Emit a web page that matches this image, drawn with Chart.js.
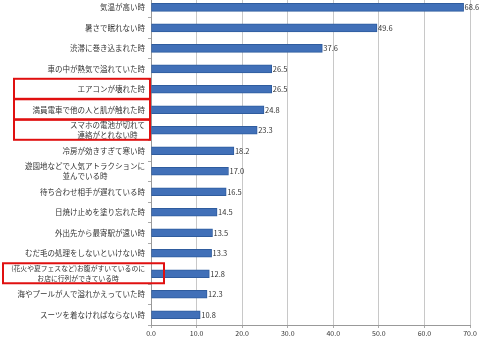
<!DOCTYPE html>
<html>
<head>
<meta charset="utf-8">
<script src="https://cdn.jsdelivr.net/npm/chart.js@4.4.1/dist/chart.umd.min.js"></script>
<style>
  body{ margin:0; background:#fff; }
  #wrap{ position:relative; width:480px; height:339px; overflow:hidden; }
  #chart{ position:absolute; left:0; top:-14px; }
</style>
</head>
<body>
<div id="wrap"><canvas id="chart" width="480" height="354"></canvas></div>
<script>
const labels = [
  "気温が高い時",
  "暑さで眠れない時",
  "渋滞に巻き込まれた時",
  "車の中が熱気で溢れていた時",
  "エアコンが壊れた時",
  "満員電車で他の人と肌が触れた時",
  ["スマホの電池が切れて", "連絡がとれない時"],
  "冷房が効きすぎて寒い時",
  ["遊園地などで人気アトラクションに", "並んでいる時"],
  "待ち合わせ相手が遅れている時",
  "日焼け止めを塗り忘れた時",
  "外出先から最寄駅が遠い時",
  "むだ毛の処理をしないといけない時",
  ["(花火や夏フェスなど)お腹がすいているのに", "お店に行列ができている時"],
  "海やプールが人で溢れかえっていた時",
  "スーツを着なければならない時"
];
const values = [68.6, 49.6, 37.6, 26.5, 26.5, 24.8, 23.3, 18.2, 17.0, 16.5, 14.5, 13.5, 13.3, 12.8, 12.3, 10.8];
const highlighted = [4, 5, 6, 13];
const xMax = 70;
const xStep = 10;

const FONT = "'Noto Sans CJK JP', 'Noto Sans', sans-serif";
const labelSize = i => i === 13 ? 6.8 : 7.5;

// value labels at the end of each bar
const valueLabels = {
  id: "valueLabels",
  afterDatasetsDraw(chart){
    const ctx = chart.ctx;
    const meta = chart.getDatasetMeta(0);
    ctx.save();
    ctx.font = "7.5px " + FONT;
    ctx.fillStyle = "#333";
    ctx.textBaseline = "middle";
    ctx.textAlign = "left";
    meta.data.forEach((bar, i)=>{
      ctx.fillText(values[i].toFixed(1), bar.x + 1, bar.y);
    });
    ctx.restore();
  }
};

// category labels: block right aligned to the axis, lines centred in the block
const catLabels = {
  id: "catLabels",
  afterDraw(chart){
    const ctx = chart.ctx;
    const y = chart.scales.y;
    const right = y.right - 6;
    ctx.save();
    ctx.fillStyle = "#333";
    ctx.textBaseline = "middle";
    ctx.textAlign = "center";
    labels.forEach((lab, i)=>{
      const lines = Array.isArray(lab) ? lab : [lab];
      ctx.font = labelSize(i) + "px " + FONT;
      const w = Math.max(...lines.map(t => ctx.measureText(t).width));
      const cx = right - w / 2;
      const c = y.getPixelForValue(i);
      const lh = 10;
      lines.forEach((t, k)=>{
        ctx.fillText(t, cx, c + (k - (lines.length - 1) / 2) * lh);
      });
    });
    ctx.restore();
  }
};

// red boxes round some of the labels
const redBoxes = {
  id: "redBoxes",
  afterDraw(chart){
    const ctx = chart.ctx;
    const y = chart.scales.y;
    ctx.save();
    ctx.strokeStyle = "#e01010";
    ctx.lineWidth = 2;
    highlighted.forEach(i=>{
      const c = y.getPixelForValue(i);
      const wide = Array.isArray(labels[i]) && labels[i][0].length > 15;
      const left = wide ? 3 : 14;
      const right = wide ? 164 : 150;
      ctx.strokeRect(left, c - 10.5, right - left, 20);
    });
    ctx.restore();
  }
};

new Chart(document.getElementById("chart"), {
  type: "bar",
  data: {
    labels,
    datasets: [{
      data: values,
      backgroundColor: "#4170b8",
      borderColor: "#2f5c9e",
      borderWidth: 1,
      borderSkipped: false,
      barThickness: 8
    }]
  },
  options: {
    indexAxis: "y",
    responsive: false,
    animation: false,
    layout: { padding: { top: 0, right: 10, left: 0, bottom: 0 } },
    plugins: { legend: { display: false }, tooltip: { enabled: false } },
    scales: {
      x: {
        min: 0, max: xMax,
        ticks: {
          stepSize: xStep,
          padding: 1,
          color: "#333",
          font: { family: FONT, size: 7 },
          callback: v => Number(v).toFixed(1)
        },
        grid: { color: "#c8c8c8", tickLength: 3, tickColor: "#aaa" },
        border: { color: "#999" },
        afterFit(s){ s.height = 15; }
      },
      y: {
        ticks: {
          padding: 6,
          color: "rgba(0,0,0,0)", // drawn by catLabels
          font: (c) => ({ family: FONT, size: labelSize(c.index), lineHeight: 1.35 }),
          autoSkip: false
        },
        grid: { display: true, drawOnChartArea: false, offset: true, tickLength: 3, tickColor: "#aaa" },
        border: { color: "#999" },
        afterFit(s){ s.width = 151; }
      }
    }
  },
  plugins: [valueLabels, catLabels, redBoxes]
});
</script>
</body>
</html>
